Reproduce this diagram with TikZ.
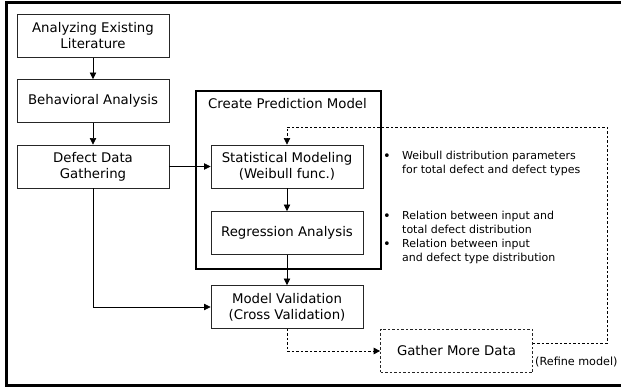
\documentclass[tikz,border=0pt]{standalone}
\usepackage{fontspec}
\setmainfont{DejaVu Sans}
\usetikzlibrary{arrows.meta}
\newcommand{\boxfont}{\fontsize{13.3}{16}\selectfont}
\newcommand{\notefont}{\fontsize{11}{14}\selectfont}
\newcommand{\dotmark}{\raisebox{-1pt}{\fontsize{13}{13}\selectfont\textbullet}}
\tikzset{
  stepbox/.style={draw=black!85, line width=0.9pt, minimum width=152pt, minimum height=43pt,
    align=center, inner sep=2pt, font=\boxfont},
  flow/.style={line width=0.7pt, -{Triangle[length=6.5pt,width=6.5pt]}},
  loopline/.style={line width=0.7pt, dash pattern=on 2.5pt off 2pt},
  note/.style={anchor=north west, inner sep=0pt, align=left, font=\notefont}
}
\begin{document}
\begin{tikzpicture}[x=1pt, y=-1pt]
        \useasboundingbox (0,0) rectangle (621,387);
        % outer frame, cut on the right
        \draw [line width=2.5pt] (621,2.5) -- (6.5,2.5) -- (6.5,385.5) -- (621,385.5);
        % left column
        \node [stepbox] (lit) at (93,36) {Analyzing Existing\\Literature};
        \node [stepbox] (beh) at (93,101) {Behavioral Analysis};
        \node [stepbox] (gath) at (93,166.5) {Defect Data\\Gathering};
        % prediction model group
        \node [draw, line width=1.6pt, minimum width=185pt, minimum height=178pt] (cpm) at (288.5,180) {};
        \node [anchor=west, inner sep=0pt, font=\boxfont] (cpmtitle) at (208,104) {Create Prediction Model};
        \node [stepbox] (stat) at (287,166.5) {Statistical Modeling\\(Weibull func.)};
        \node [stepbox] (reg) at (287,233) {Regression Analysis};
        \node [stepbox] (val) at (287,307) {Model Validation\\(Cross Validation)};
        \node [stepbox, loopline] (more) at (456.5,351) {Gather More Data};
        \node [anchor=west, inner sep=0pt, font=\fontsize{11.2}{13}\selectfont] (refine) at (535,362) {(Refine model)};
        % notes
        \node [note] (weib) at (383,150) {\begin{tabular}{@{}p{19pt}@{}l@{}}
          \dotmark & Weibull distribution parameters\\
                   & for total defect and defect types
          \end{tabular}};
        \node [note] (rel) at (383,210) {\begin{tabular}{@{}p{19pt}@{}l@{}}
          \dotmark & Relation between input and\\
                   & total defect distribution\\
          \dotmark & Relation between input\\
                   & and defect type distribution
          \end{tabular}};
        \coordinate (turn) at (607,127);
        % connectors
        \draw [flow] (lit) -- (beh);
        \draw [flow] (beh) -- (gath);
        \draw [flow] (gath) -- (stat);
        \draw [flow] (stat) -- (reg);
        \draw [flow] (reg) -- (val);
        \draw [flow] (gath.south) |- (val.west);
        \draw [loopline, -{Triangle[length=6.5pt,width=6.5pt]}] (val.south) |- (more.west);
        \draw [loopline, -{Triangle[length=6.5pt,width=6.5pt]}] ([yshift=8pt]more.east) -| (turn) -| (stat.north);
      \end{tikzpicture}
\end{document}
